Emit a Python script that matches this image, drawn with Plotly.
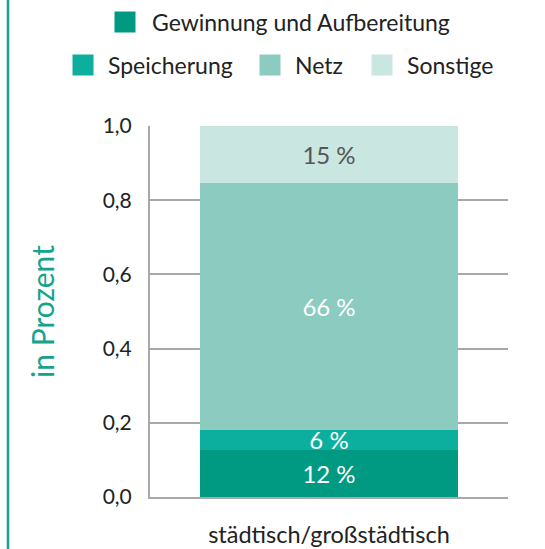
import plotly.graph_objects as go

categories = ["städtisch/großstädtisch"]
series_names = ["Gewinnung und Aufbereitung", "Speicherung", "Netz", "Sonstige"]
series_values = [[0.127], [0.054], [0.666], [0.153]]
series_labels = [["12 %"], ["6 %"], ["66 %"], ["15 %"]]
series_colors = ["#009a82", "#0caf9e", "#8ccbc0", "#c9e6e0"]
label_colors = ["#ffffff", "#ffffff", "#ffffff", "#555555"]
y_ticks = [0.0, 0.2, 0.4, 0.6, 0.8, 1.0]

FONT = "Lato"
L, R, T, B = 150, 37, 126, 52
W, H = 545, 549
PW, PH = W - L - R, H - T - B

def px_x(p):
    return (p - L) / PW

def px_y(p):
    return (H - B - p) / PH

fig = go.Figure()
for name, vals, labs, col, lc in zip(series_names, series_values, series_labels, series_colors, label_colors):
    fig.add_trace(go.Bar(
        x=categories, y=vals, name=name, marker=dict(color=col, line=dict(width=0)),
        text=labs, textposition="inside", insidetextanchor="middle", constraintext="none",
        textfont=dict(family=FONT, size=24, color=lc), showlegend=False, hoverinfo="skip",
    ))

legend_ids = ["legend", "legend2", "legend3", "legend4"]
# symbol centres (pixels) and item widths
legend_pos = [(125, 22, 44), (83, 65, 40), (270, 65, 40), (382, 65, 40)]
for name, col, lid in zip(series_names, series_colors, legend_ids):
    fig.add_trace(go.Scatter(
        x=[None], y=[None], mode="markers", name=name, legend=lid,
        marker=dict(symbol="square", size=16, color=col, line=dict(color=col, width=5)),
        showlegend=True,
    ))

legend_layout = {}
for lid, (lx, ly, iw) in zip(legend_ids, legend_pos):
    legend_layout[lid] = dict(
        x=px_x(lx - (iw / 2 + 5)), y=px_y(ly), xanchor="left", yanchor="middle",
        orientation="h", bgcolor="rgba(0,0,0,0)", borderwidth=0, itemwidth=iw,
        font=dict(family=FONT, size=23, color="#222222"),
    )

fig.update_layout(
    width=W, height=H,
    margin=dict(l=L, r=R, t=T, b=B, pad=0, autoexpand=False),
    paper_bgcolor="white", plot_bgcolor="white",
    barmode="stack", bargap=0.28,
    separators=",.",
    font=dict(family=FONT, size=20, color="#222222"),
    showlegend=True,
    **legend_layout,
)
fig.update_xaxes(
    range=[-0.5, 0.5], type="category", tickson="boundaries",
    ticks="inside", ticklen=9, tickwidth=2, tickcolor="#a8a8a8",
    showgrid=False, showline=True, linecolor="#a8a8a8", linewidth=2,
    tickfont=dict(family=FONT, size=23.5, color="#222222"), ticklabelstandoff=16,
    zeroline=False, fixedrange=True,
)
fig.update_yaxes(
    range=[0, 1.0], tickvals=y_ticks, tickformat=".1f",
    showgrid=True, gridcolor="#a8a8a8", gridwidth=1.5,
    showline=True, linecolor="#a8a8a8", linewidth=2,
    ticks="", ticklabelstandoff=12,
    tickfont=dict(family=FONT, size=21, color="#222222"),
    title=dict(text="in Prozent", font=dict(family=FONT, size=30, color="#14a38d"), standoff=39),
    zeroline=False, fixedrange=True,
)
fig.add_shape(type="line", xref="paper", yref="paper",
              x0=px_x(8), x1=px_x(8), y0=px_y(0), y1=px_y(H),
              line=dict(color="#14a38d", width=2.5))

fig.write_html("out.html", config=dict(displayModeBar=False),
               post_script="document.body.style.margin='0';document.body.style.overflow='hidden';")
